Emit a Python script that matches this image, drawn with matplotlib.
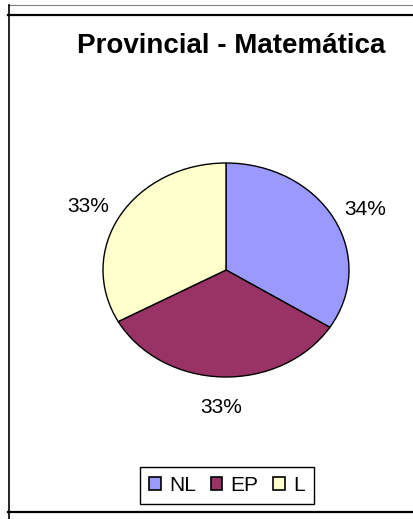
import numpy as np
import matplotlib
matplotlib.use("Agg")
import matplotlib.pyplot as plt
from matplotlib.lines import Line2D
from matplotlib.patches import Patch

plt.rcParams['font.family'] = ['Liberation Sans', 'DejaVu Sans']

title = "Provincial - Matemática"
categories = ["NL", "EP", "L"]
values = [34, 33, 33]
colors = ["#9999FF", "#993366", "#FFFFCC"]

W, H = 414, 519
fig = plt.figure(figsize=(W / 100, H / 100), dpi=100)

def fx(px):
    return px / W

def fy(py):
    return 1 - py / H

# frame lines
fig.add_artist(Line2D([fx(8), 1], [fy(5), fy(5)], color="#808080", lw=0.8))
fig.add_artist(Line2D([fx(8), 1], [fy(15), fy(15)], color="black", lw=1.6))
fig.add_artist(Line2D([fx(9), fx(9)], [fy(5), 0], color="black", lw=1.2))
fig.add_artist(Line2D([fx(8), 1], [fy(512), fy(512)], color="black", lw=1.6))

# pie axes (elliptical)
left, right, top, bottom = 103, 349, 163, 377
ax = fig.add_axes([fx(left), fy(bottom), (right - left) / W, (bottom - top) / H])
wedges, _ = ax.pie(values, colors=colors, startangle=90, counterclock=False,
                   wedgeprops=dict(edgecolor="black", linewidth=1.0))
ax.set_aspect('auto')
ax.set_xlim(-1, 1)
ax.set_ylim(-1, 1)
ax.axis('off')

# percentage labels outside
total = float(sum(values))
start = 90.0
for v in values:
    span = 360.0 * v / total
    mid = np.deg2rad(start - span / 2)
    start -= span
    c, s = np.cos(mid), np.sin(mid)
    if abs(c) < 0.35:
        x, y = 1.12 * c, 1.12 * s + (-0.08 if s < 0 else 0.08)
        ha, va = 'center', ('top' if s < 0 else 'bottom')
    else:
        x, y = 1.1 * c, 1.17 * s
        ha, va = ('left' if c > 0 else 'right'), 'center'
    ax.text(x, y, f"{v}%", ha=ha, va=va, fontsize=15, color="black", clip_on=False)

fig.text(fx(231), fy(46), title, ha='center', va='center', fontsize=20,
         fontweight='bold', color='black')

handles = [Patch(facecolor=c, edgecolor='black', linewidth=1.2) for c in colors]
leg = fig.legend(handles, categories, loc='center', ncol=3,
                 bbox_to_anchor=(fx(227), fy(485.5)), frameon=True, fancybox=False,
                 edgecolor='black', framealpha=1, fontsize=15,
                 handlelength=0.55, handleheight=0.55, handletextpad=0.4,
                 columnspacing=0.7, borderpad=0.45)
leg.get_frame().set_linewidth(1.0)

fig.savefig("out.png", dpi=100)
